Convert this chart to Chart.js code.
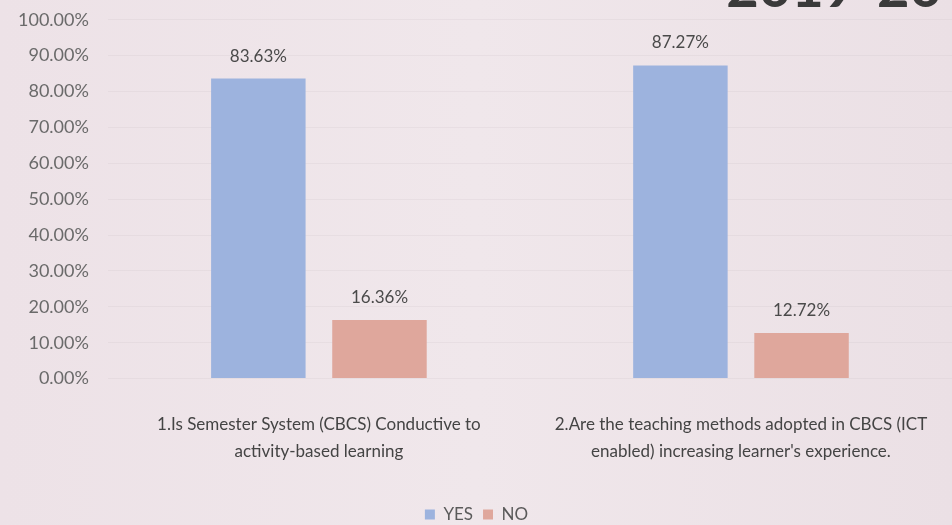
<!DOCTYPE html>
<html><head><meta charset="utf-8">
<script src="https://cdn.jsdelivr.net/npm/chart.js@4"></script>
<style>
html,body{margin:0;padding:0;background:#ebe0e5;overflow:hidden}
#wrap{position:relative;width:952px;height:525px;overflow:hidden;background:linear-gradient(90deg,#ede2e7,#f0e7eb 50%,#ebe0e5)}
#title{position:absolute;top:-48px;right:10px;font:bold 56px Lato,sans-serif;color:#3a3a3a;white-space:nowrap;z-index:2}
canvas{position:absolute;left:0;top:-10px}
</style></head><body>
<div id="wrap"><canvas id="c" width="952" height="543"></canvas><div id="title">2019-20</div></div>
<script>
const categories = [
  ["1.Is Semester System (CBCS) Conductive to","activity-based learning"],
  ["2.Are the teaching methods adopted in CBCS (ICT","enabled) increasing learner's experience."]
];
const seriesNames = ["YES","NO"];
const yesValues = [83.63, 87.27];
const noValues = [16.36, 12.72];
const yTicks = [0,10,20,30,40,50,60,70,80,90,100];

const labelPlugin = {
  id:'vals',
  afterDatasetsDraw(chart){
    const ctx = chart.ctx;
    ctx.save();
    ctx.font = '17px Lato, sans-serif';
    ctx.fillStyle = '#4a4a4a';
    ctx.textAlign = 'center';
    ctx.textBaseline = 'bottom';
    chart.data.datasets.forEach((ds,i)=>{
      chart.getDatasetMeta(i).data.forEach((bar,j)=>{
        ctx.fillText(ds.data[j].toFixed(2)+'%', bar.x, bar.y - 14);
      });
    });
    ctx.restore();
  }
};

new Chart(document.getElementById('c'),{
  type:'bar',
  data:{
    labels:categories,
    datasets:[
      {label:seriesNames[0],data:yesValues,backgroundColor:'#9db3de',borderWidth:0},
      {label:seriesNames[1],data:noValues,backgroundColor:'#dfa79c',borderWidth:0}
    ]
  },
  options:{
    responsive:false,animation:false,
    layout:{padding:{left:-1,right:-2,top:0,bottom:0}},
    datasets:{bar:{categoryPercentage:0.574,barPercentage:0.78}},
    plugins:{
      legend:{position:'bottom',labels:{boxWidth:10,boxHeight:10,color:'#5a5a5a',font:{family:'Lato',size:17},padding:10}},
      tooltip:{enabled:false}
    },
    scales:{
      x:{grid:{display:false},border:{display:false},afterFit(s){s.height+=7;},
         ticks:{color:'#444',font:{family:'Lato',size:17,lineHeight:1.6},maxRotation:0,padding:24}},
      y:{min:0,max:100,afterBuildTicks(ax){ax.ticks=yTicks.map(v=>({value:v}));},
         grid:{color:'rgba(200,190,195,0.2)',drawTicks:false},border:{display:false},
         ticks:{color:'#6a6a6a',font:{family:'Lato',size:18},padding:19,callback:v=>v.toFixed(2)+'%'}}
    }
  },
  plugins:[labelPlugin]
});
</script>
</body></html>
